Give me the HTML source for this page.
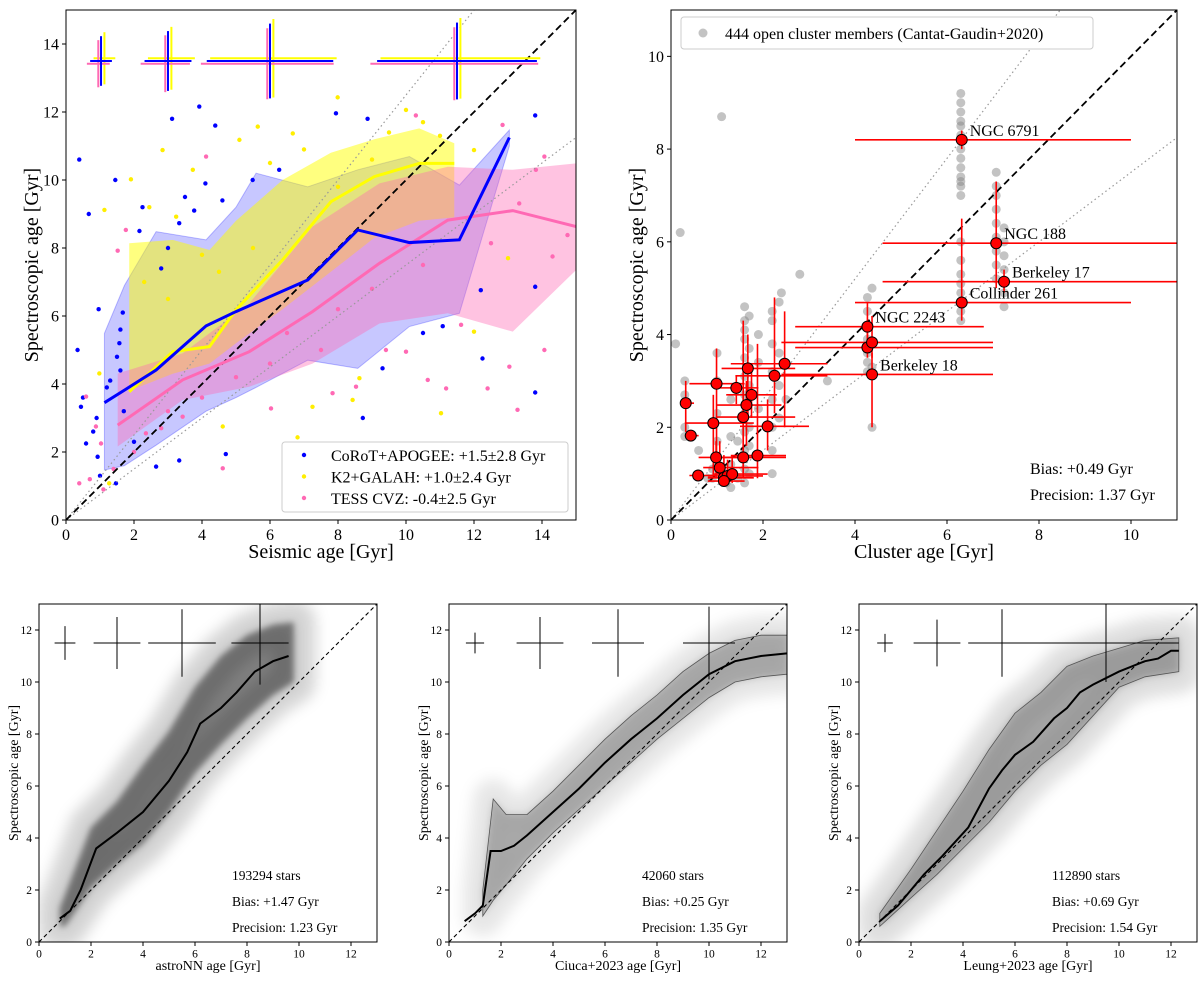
<!DOCTYPE html>
<html><head><meta charset="utf-8"><style>
body{margin:0;background:#fff}
svg text{font-family:"Liberation Serif",serif;fill:#000}
</style></head><body>
<svg id="s" width="1200" height="988" viewBox="0 0 1200 988" xmlns="http://www.w3.org/2000/svg">
<defs>
<filter id="bl" x="-30%" y="-30%" width="160%" height="160%"><feGaussianBlur stdDeviation="7"/></filter>
<filter id="bl2" x="-20%" y="-20%" width="140%" height="140%"><feGaussianBlur stdDeviation="3"/></filter>
</defs>
</svg>
<script>
// ---------- Panel A data (seismic vs spectroscopic) ----------
const aBlueMedX=[1.13,1.72,2.65,4.12,5.0,5.59,7.11,8.58,10.1,11.57,13.04];
const aBlueMedY=[3.45,3.82,4.41,5.71,6.13,6.39,7.06,8.53,8.16,8.24,11.25];
const aBlueUp=[5.49,6.9,8.48,8.24,9.2,10.2,9.8,10.3,10.69,9.85,11.47];
const aBlueLo=[1.47,1.6,2.2,3.2,3.6,3.9,4.7,4.46,5.69,6.08,11.0];
const aYelMedX=[1.86,3.14,4.22,5.0,6.37,7.79,9.07,10.39,11.42];
const aYelMedY=[3.77,4.95,5.1,6.18,7.65,9.36,10.1,10.49,10.49];
const aYelUp=[8.14,8.24,7.94,8.8,10.0,10.8,11.2,11.52,11.08];
const aYelLo=[3.8,4.3,4.6,5.2,6.2,7.3,8.3,8.8,8.9];
const aPinkMedX=[1.52,3.43,5.39,7.25,9.22,11.23,13.14,15];
const aPinkMedY=[2.79,4.12,4.95,6.13,7.55,8.82,9.1,8.63];
const aPinkUp=[4.31,4.9,6.37,8.63,9.9,10.39,10.3,10.49];
const aPinkLo=[2.16,3.53,3.92,4.6,5.78,6.08,5.54,7.35];
const aBluePtsX=[0.39,0.67,1.45,3.12,3.92,4.39,7.94,8.87,13.8,0.96,0.34,0.44,0.59,0.93,1.57,1.67,2.16,2.25,3.33,3.77,6.27,12.25,13.8,10.5,8.73,9.31,3.33,4.7,12.2,13.8,5.49,11.08,2.65,1.47,0.8,1.2,1.0,1.6,0.5,1.5,1.6,1.7,1.3,0.9,2.0,2.8,3.0,3.5,4.1,4.6];
const aBluePtsY=[10.6,9.0,10.0,11.8,12.16,11.6,11.96,11.8,11.9,6.2,5.0,3.33,2.25,1.86,5.2,6.1,8.5,9.2,8.73,9.1,10.3,4.75,3.75,5.5,3.0,4.46,1.75,1.94,6.76,6.86,10.0,5.7,1.57,1.08,2.6,3.9,1.3,4.4,3.6,4.8,5.6,3.2,4.1,3.0,2.3,7.4,8.0,9.5,9.9,9.4];
const aYelPtsX=[1.91,1.13,2.84,5.64,7.99,10.0,12.0,6.81,11.03,12.0,7.25,8.43,3.73,5.1,6.67,0.98,1.27,13.0,8.63,4.61,3.24,2.45,7.0,9.5,6.0,4.5,3.0,5.5,8.0,9.0,10.5,11.0,2.3,4.0];
const aYelPtsY=[10.02,9.12,10.88,11.57,12.43,12.06,10.88,2.43,3.14,5.54,3.33,3.53,10.3,11.18,11.37,4.31,1.08,7.7,4.17,2.75,8.92,9.2,10.9,11.4,10.5,7.3,6.5,8.0,9.8,10.6,11.7,11.3,7.0,7.8];
const aPinkPtsX=[0.39,1.03,1.76,1.52,4.12,10.29,12.84,14.07,14.75,14.07,13.28,12.4,11.18,10.64,10.0,9.41,13.04,11.62,4.61,6.03,7.84,8.53,0.59,0.88,2.35,3.43,13.33,13.82,12.5,14.31,0.7,1.1,2.0,2.8,1.4,5.0,6.5,7.5,8.0,9.0,10.5,4.0,3.0,6.0];
const aPinkPtsY=[1.08,2.25,8.53,7.92,10.69,11.9,11.62,10.69,8.38,5.0,3.24,3.87,3.87,4.12,4.95,5.0,4.51,5.74,1.52,3.28,3.73,3.92,3.63,2.75,2.55,3.04,9.31,10.3,8.14,7.75,1.2,0.9,2.0,2.7,1.5,4.2,5.5,5.0,6.2,6.8,7.5,3.6,3.2,4.6];
const aCrossX=[1.03,3.0,6.0,11.5];
const aCrossXerr=[0.32,0.69,1.86,2.35];
const aCrossYerr=[0.73,0.88,1.1,1.13];

// ---------- Panel B data (open clusters) ----------
const bX=[0.32,0.43,0.59,0.99,0.92,0.98,1.06,1.15,1.23,1.33,1.15,1.42,1.67,1.75,1.64,1.57,1.57,1.88,2.10,2.25,2.47,4.27,4.27,4.37,4.37,6.32,6.32,7.07,7.24];
const bY=[2.52,1.82,0.96,2.94,2.09,1.35,1.13,0.91,0.95,0.99,0.84,2.85,3.27,2.70,2.48,2.22,1.35,1.39,2.02,3.11,3.37,4.17,3.72,3.83,3.14,4.69,8.2,5.97,5.14];
const bXlo=[0.25,0.3,0.4,0.4,0.3,0.6,0.7,0.8,0.8,0.9,0.8,1.0,1.1,1.2,1.0,1.0,1.0,1.3,1.5,1.4,1.3,2.7,2.7,2.4,2.4,4.0,4.0,4.6,4.6];
const bXhi=[0.5,0.6,1.0,1.6,1.8,2.0,1.9,1.8,2.0,2.1,1.6,1.9,2.7,2.3,2.4,2.7,2.5,2.5,3.0,3.4,3.4,6.8,7.0,7.0,7.0,10.0,10.0,11.0,11.0];
const bYlo=[1.9,1.7,0.9,1.1,1.0,0.9,0.9,0.8,0.8,0.8,0.8,2.5,2.2,2.2,1.6,1.0,0.9,0.9,1.5,2.3,2.0,3.8,3.5,3.5,2.0,4.3,8.0,5.0,4.9];
const bYhi=[3.0,1.9,1.0,3.7,2.7,1.7,1.7,1.4,1.3,1.4,1.2,3.1,4.0,3.2,3.0,4.3,3.4,3.8,2.6,4.8,4.5,4.7,4.2,4.4,3.6,6.5,8.4,7.3,5.4];
const bNames=["","","","","","","","","","","","","","","","","","","","","","NGC 2243","","","Berkeley 18","Collinder 261","NGC 6791","NGC 188","Berkeley 17"];
const bMemX=[6.3,6.3,6.3,6.3,6.3,6.3,6.3,6.3,6.3,6.3,6.3,6.3,6.3,7.07,7.07,7.07,7.07,7.07,7.07,7.07,7.07,7.07,7.24,7.24,7.24,7.24,7.24,7.24,6.3,6.3,6.3,6.3,6.3,6.3,6.3,4.27,4.27,4.27,4.27,4.27,4.27,4.27,4.37,4.37,4.37,1.6,1.6,1.6,1.6,1.6,1.6,1.6,1.6,1.6,1.6,1.6,1.6,2.2,2.2,2.2,2.2,2.2,2.2,2.2,2.2,1.0,1.0,1.0,1.0,1.0,0.3,0.3,0.3,0.3,1.3,1.3,1.3,1.3,0.2,1.1,0.1,2.4,2.8,0.6,0.8,1.9,1.9,1.9,2.5,3.4,1.7,1.7,1.7,1.7,1.7,1.7,2.35,2.35,2.35,2.35,1.2,1.2,0.9,0.9,1.45,1.45];
const bMemY=[7.0,7.2,7.4,7.6,7.8,8.0,8.3,8.5,8.8,9.0,9.2,8.6,7.3,5.2,5.5,5.8,6.1,6.4,6.7,7.0,7.2,7.5,4.6,4.9,5.4,5.7,6.0,6.3,4.3,4.5,4.9,5.1,5.3,5.6,6.0,3.2,3.4,3.6,3.9,4.2,4.5,4.8,2.0,3.3,5.0,0.8,1.1,1.5,1.9,2.3,2.7,3.1,3.5,3.9,4.3,4.6,4.1,1.0,1.5,2.0,2.6,3.2,3.8,4.3,4.5,1.2,1.7,2.3,3.0,3.6,1.8,2.0,2.7,3.0,0.7,1.2,1.8,2.6,6.2,8.7,3.8,4.9,5.3,1.5,0.9,4.0,3.4,2.4,2.6,3.0,1.0,1.6,2.0,2.9,3.7,4.4,2.2,2.9,3.6,4.7,0.8,1.0,0.9,1.1,0.9,1.7];

// ---------- Bottom panels data ----------
const cMedX=[0.8,1.2,1.6,2.2,3,4,5,5.7,6.2,7,7.6,8.3,9,9.6];
const cMedY=[0.9,1.2,2.0,3.6,4.2,5.0,6.2,7.3,8.4,9.0,9.6,10.4,10.8,11.0];
const cBandX=[0.8,1,2,3,4,5,6,7,8,9,9.8];
const cBandLo=[0.6,0.6,2.1,3.0,3.8,5.0,6.5,7.6,8.6,9.5,10.0];
const cBandUp=[1.3,1.8,4.4,5.4,6.8,8.1,9.8,11.0,11.8,12.2,12.3];
const dMedX=[0.6,1,1.3,1.6,2,2.5,3,4,5,6,7,8,9,10,11,12,13];
const dMedY=[0.8,1.1,1.4,3.5,3.5,3.7,4.1,5.0,5.9,6.9,7.8,8.6,9.5,10.3,10.8,11.0,11.1];
const dBandX=[1.3,1.7,2.2,3,4,5,6,7,8,9,10,11,12,13];
const dBandUp=[2.0,5.5,4.9,4.9,5.8,6.8,7.8,8.7,9.5,10.4,11.1,11.6,11.8,11.8];
const dBandLo=[1.0,1.6,2.2,3.2,4.2,5.1,6.0,6.9,7.8,8.6,9.4,10.0,10.2,10.3];
const eMedX=[0.8,1.5,2.5,3.2,4.2,5,5.5,6,6.7,7.5,8,8.5,9,10,11,11.5,12,12.3];
const eMedY=[0.8,1.4,2.6,3.3,4.4,5.9,6.6,7.2,7.7,8.6,9.0,9.6,9.9,10.4,10.8,10.9,11.2,11.2];
const eBandX=[0.8,2,3,4,5,6,7,8,9,10,11,12.3];
const eBandUp=[1.1,2.8,4.3,5.8,7.4,8.8,9.6,10.6,11.0,11.3,11.6,11.7];
const eBandLo=[0.6,1.7,2.6,3.6,4.6,5.8,6.8,7.6,8.7,9.8,10.2,10.4];
const cCrossX=[1.0,3.0,5.5,8.5], cCrossXe=[0.4,0.9,1.3,1.1], cCrossYe=[0.65,1.0,1.3,1.6];
const dCrossX=[1.0,3.5,6.5,10.0], dCrossXe=[0.35,0.9,1.0,1.0], dCrossYe=[0.4,1.0,1.3,1.4];
const eCrossX=[1.0,3.0,5.5,9.5], eCrossXe=[0.3,0.9,1.3,2.8], eCrossYe=[0.35,0.9,1.3,1.5];
const cStats=["193294 stars","Bias: +1.47 Gyr","Precision: 1.23 Gyr"];
const dStats=["42060 stars","Bias: +0.25 Gyr","Precision: 1.35 Gyr"];
const eStats=["112890 stars","Bias: +0.69 Gyr","Precision: 1.54 Gyr"];

const S=document.getElementById('s');
const NS='http://www.w3.org/2000/svg';
function el(tag,attrs,parent,txt){const e=document.createElementNS(NS,tag);for(const k in attrs)e.setAttribute(k,attrs[k]);if(txt!==undefined)e.textContent=txt;(parent||S).appendChild(e);return e;}
function mk(x0,y0,w,h,xmax,ymax){return{x0,y0,w,h,sx:v=>x0+v/xmax*w,sy:v=>y0+h-v/ymax*h,xmax,ymax};}
function clip(p,id){const d=el('defs',{});const c=el('clipPath',{id},d);el('rect',{x:p.x0,y:p.y0,width:p.w,height:p.h},c);const g=el('g',{'clip-path':'url(#'+id+')'});return g;}
function axes(p,ticks,fs,xlab,ylab,lfs,xly,ylx,name){
  const g=el('g',{});
  
  
  el('rect',{x:p.x0,y:p.y0,width:p.w,height:p.h,fill:'none',stroke:'#000','stroke-width':1},g);
  ticks.forEach(t=>{
    const x=p.sx(t),y=p.sy(t);
    el('line',{x1:x,x2:x,y1:p.y0+p.h,y2:p.y0+p.h+4,stroke:'#000'},g);
    const tx=el('text',{x:x,y:p.y0+p.h+4+fs,'font-size':fs,'text-anchor':'middle'},g,t);
    
    
    el('line',{x1:p.x0-4,x2:p.x0,y1:y,y2:y,stroke:'#000'},g);
    const ty=el('text',{x:p.x0-7,y:y+fs*0.35,'font-size':fs,'text-anchor':'end'},g,t);
    
    
  });
  const xl=el('text',{x:p.x0+p.w/2,y:xly,'font-size':lfs,'text-anchor':'middle'},g,xlab);
  
  
  const yc=p.y0+p.h/2;
  const yl=el('text',{x:ylx,y:yc,'font-size':lfs,'text-anchor':'middle',transform:`rotate(-90 ${ylx} ${yc})`},g,ylab);
  
  
}
function band(p,g,xs,lo,up,attrs,name){
  let pts=xs.map((x,i)=>p.sx(x)+','+p.sy(up[i]));
  for(let i=xs.length-1;i>=0;i--)pts.push(p.sx(xs[i])+','+p.sy(lo[i]));
  const e=el('polygon',Object.assign({points:pts.join(' ')},attrs),g);
  
  
  return e;
}
function line(p,g,xs,ys,attrs,name){
  const e=el('polyline',Object.assign({points:xs.map((x,i)=>p.sx(x)+','+p.sy(ys[i])).join(' '),fill:'none'},attrs),g);
  
  
}
function ref(p,g,slope,max,attrs,name){
  const e=el('line',Object.assign({x1:p.sx(0),y1:p.sy(0),x2:p.sx(max),y2:p.sy(max*slope)},attrs),g);
  
  
}
function dots(p,g,xs,ys,r,fill,name,extra){
  xs.forEach((x,i)=>{const c=el('circle',Object.assign({cx:p.sx(x),cy:p.sy(ys[i]),r,fill},extra||{}),g);
    
    });
}
function cross(p,g,cx,cy,xe,ye,col,w,name){
  const e1=el('line',{x1:p.sx(cx-xe),x2:p.sx(cx+xe),y1:p.sy(cy),y2:p.sy(cy),stroke:col,'stroke-width':w},g);
  
  
  const e2=el('line',{x1:p.sx(cx),x2:p.sx(cx),y1:p.sy(cy-ye),y2:p.sy(cy+ye),stroke:col,'stroke-width':w},g);
  
  
}

// ===== Panel A =====
const A=mk(66,10,510,510,15,15);
const gA=clip(A,'ca');
band(A,gA,aBlueMedX,aBlueLo,aBlueUp,{fill:'#0000ff','fill-opacity':0.22,stroke:'#0000ff','stroke-opacity':0.25},'blue-band');
band(A,gA,aYelMedX,aYelLo,aYelUp,{fill:'#ffff00','fill-opacity':0.5,stroke:'none'},'yellow-band');
band(A,gA,aPinkMedX,aPinkLo,aPinkUp,{fill:'#ff69b4','fill-opacity':0.4,stroke:'none'},'pink-band');
dots(A,gA,aBluePtsX,aBluePtsY,2.2,'#0000ff','blue-point');
dots(A,gA,aYelPtsX,aYelPtsY,2.2,'#ffee00','yellow-point');
dots(A,gA,aPinkPtsX,aPinkPtsY,2.2,'#ff69b4','pink-point');
ref(A,gA,1.25,15,{stroke:'#999','stroke-dasharray':'1.5 3','stroke-width':1.2},'ref-line-upper');
ref(A,gA,0.75,15,{stroke:'#999','stroke-dasharray':'1.5 3','stroke-width':1.2},'ref-line-lower');
ref(A,gA,1,15,{stroke:'#000','stroke-dasharray':'7 4','stroke-width':1.8},'one-to-one-line');
line(A,gA,aYelMedX,aYelMedY,{stroke:'#ffff00','stroke-width':3},'yellow-median');
line(A,gA,aPinkMedX,aPinkMedY,{stroke:'#ff69b4','stroke-width':3},'pink-median');
line(A,gA,aBlueMedX,aBlueMedY,{stroke:'#0000ff','stroke-width':3},'blue-median');
aCrossX.forEach((x,i)=>{
  cross(A,gA,x+0.1,13.58,aCrossXerr[i]*1.0,aCrossYerr[i]*1.05,'#ffff00',2,'yellow-error-cross');
  cross(A,gA,x-0.08,13.42,aCrossXerr[i]*1.05,aCrossYerr[i]*0.95,'#ff69b4',2,'pink-error-cross');
  cross(A,gA,x,13.5,aCrossXerr[i],aCrossYerr[i],'#0000ff',2,'blue-error-cross');
});
axes(A,[0,2,4,6,8,10,12,14],16,'Seismic age [Gyr]','Spectroscopic age [Gyr]',20,558,38,'seismic');
const lgA=el('g',{});


el('rect',{x:282,y:442,width:286,height:70,rx:3,fill:'#fff','fill-opacity':0.85,stroke:'#ccc'},lgA);
[['#0000ff','CoRoT+APOGEE: +1.5±2.8 Gyr'],['#ffee00','K2+GALAH: +1.0±2.4 Gyr'],['#ff69b4','TESS CVZ: -0.4±2.5 Gyr']].forEach((d,i)=>{
  const y=455+i*21.5;
  const c=el('circle',{cx:304,cy:y,r:2.2,fill:d[0]},lgA);
  
  
  const t=el('text',{x:331,y:y+6,'font-size':16},lgA,d[1]);
  
  
});

// ===== Panel B =====
const B=mk(671,10,506,510,11,11);
const gB=clip(B,'cb');
dots(B,gB,bMemX,bMemY,4.5,'#888','cluster-member',{'fill-opacity':0.5});
ref(B,gB,1.3,11,{stroke:'#999','stroke-dasharray':'1.5 3','stroke-width':1.2},'ref-line-upper');
ref(B,gB,0.75,11,{stroke:'#999','stroke-dasharray':'1.5 3','stroke-width':1.2},'ref-line-lower');
ref(B,gB,1,11,{stroke:'#000','stroke-dasharray':'7 4','stroke-width':1.8},'one-to-one-line');
bX.forEach((x,i)=>{
  const h=el('line',{x1:B.sx(bXlo[i]),x2:B.sx(bXhi[i]),y1:B.sy(bY[i]),y2:B.sy(bY[i]),stroke:'#f00','stroke-width':1.6},gB);
  
  
  const v=el('line',{x1:B.sx(x),x2:B.sx(x),y1:B.sy(bYlo[i]),y2:B.sy(bYhi[i]),stroke:'#f00','stroke-width':1.6},gB);
  
  
});
dots(B,gB,bX,bY,5.5,'#f00','cluster-point',{stroke:'#000','stroke-width':1});
bX.forEach((x,i)=>{ if(bNames[i]){
  const t=el('text',{x:B.sx(x)+8,y:B.sy(bY[i])-4,'font-size':16},S,bNames[i]);
  
  }});
axes(B,[0,2,4,6,8,10],16,'Cluster age [Gyr]','Spectroscopic age [Gyr]',20,558,643,'cluster');
const lgB=el('g',{});


el('rect',{x:681,y:17,width:412,height:32,rx:3,fill:'#fff',stroke:'#ccc'},lgB);
el('circle',{cx:703,cy:33,r:4.5,fill:'#888','fill-opacity':0.5},lgB);
const lbt=el('text',{x:725,y:39,'font-size':16},lgB,'444 open cluster members (Cantat-Gaudin+2020)');


['Bias: +0.49 Gyr','Precision: 1.37 Gyr'].forEach((s,i)=>{
  const t=el('text',{x:1030,y:474+i*26,'font-size':16},S,s);
  
  });

// ===== Bottom panels =====
function bottom(x0,id,mx,my,bx,blo,bup,showBand,cx,cxe,cye,stats,xlab,name,cw,co,ko){
  const P=mk(x0,604,338,338,13,13);
  const g=clip(P,id);
  band(P,g,bx,blo,bup,{fill:'#000','fill-opacity':co,stroke:'#000','stroke-opacity':co,'stroke-width':cw,'stroke-linejoin':'round',filter:'url(#bl)'},name+'-cloud');
  band(P,g,bx,blo,bup,{fill:'#000','fill-opacity':ko,filter:'url(#bl2)'},name+'-cloud-core');
  if(showBand) band(P,g,bx,blo,bup,{fill:'#888','fill-opacity':0.4,stroke:'#555','stroke-width':0.8},name+'-band');
  ref(P,g,1,13,{stroke:'#000','stroke-dasharray':'4 3','stroke-width':1.1},'one-to-one-line');
  line(P,g,mx,my,{stroke:'#000','stroke-width':2},name+'-median');
  cx.forEach((x,i)=>cross(P,g,x,11.5,cxe[i],cye[i],'#000',1,'error-cross'));
  stats.forEach((s,i)=>{const t=el('text',{x:x0+193,y:880+i*26,'font-size':13.5},S,s);
    
    });
  axes(P,[0,2,4,6,8,10,12],11.5,xlab,'Spectroscopic age [Gyr]',14,970,x0-21,name);
}
bottom(39,'cc',cMedX,cMedY,cBandX,cBandLo,cBandUp,false,cCrossX,cCrossXe,cCrossYe,cStats,'astroNN age [Gyr]','astronn',44,0.16,0.4);
bottom(449,'cd',dMedX,dMedY,dBandX,dBandLo,dBandUp,true,dCrossX,dCrossXe,dCrossYe,dStats,'Ciuca+2023 age [Gyr]','ciuca',40,0.09,0.12);
bottom(859,'ce',eMedX,eMedY,eBandX,eBandLo,eBandUp,true,eCrossX,eCrossXe,eCrossYe,eStats,'Leung+2023 age [Gyr]','leung',44,0.12,0.15);
</script>
</body></html>
